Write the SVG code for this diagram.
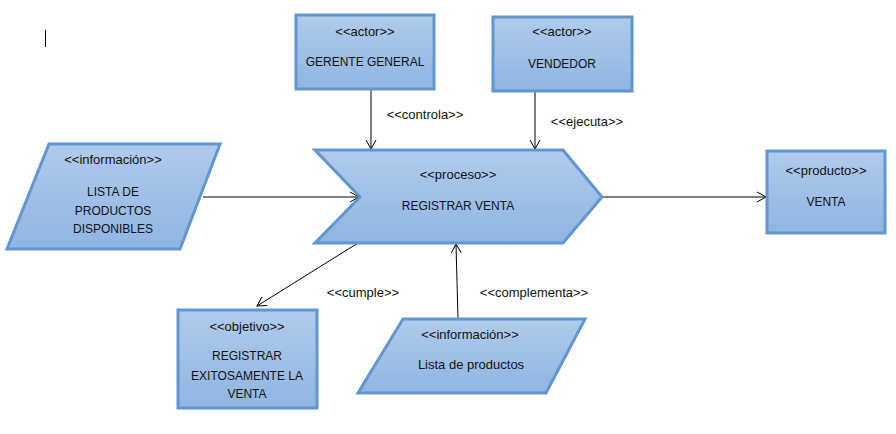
<svg xmlns="http://www.w3.org/2000/svg" width="896" height="434" viewBox="0 0 896 434">
<defs>
<linearGradient id="g" x1="0" y1="0" x2="0" y2="1">
<stop offset="0" stop-color="#b0cbec"/>
<stop offset="1" stop-color="#8fb5e2"/>
</linearGradient>
<marker id="ah" markerWidth="12" markerHeight="12" refX="10" refY="6" orient="auto" markerUnits="userSpaceOnUse">
<path d="M1,1 L10,6 L1,11" fill="none" stroke="#000" stroke-width="1"/>
</marker>
<style>
.s{fill:url(#g);stroke:#6196d0;stroke-width:3}
text{font-family:"Liberation Sans",Arial,sans-serif;font-size:12px;fill:#111;text-anchor:middle}
.l{font-size:13px}
.c{stroke:#000;stroke-width:1;fill:none;marker-end:url(#ah)}
</style>
</defs>
<rect width="896" height="434" fill="#fff"/>
<line x1="45.5" y1="30" x2="45.5" y2="47" stroke="#000" stroke-width="1"/>
<g id="connectors">
<line class="c" x1="371" y1="89" x2="371" y2="149"/>
<line class="c" x1="535" y1="91" x2="535" y2="149"/>
<line class="c" x1="203" y1="197" x2="359" y2="197"/>
<line class="c" x1="603" y1="197" x2="766" y2="197"/>
<line class="c" x1="358" y1="243" x2="257" y2="306"/>
<line class="c" x1="458" y1="319" x2="456" y2="244"/>
<text class="l" x="425" y="119">&lt;&lt;controla&gt;&gt;</text>
<text class="l" x="587" y="126">&lt;&lt;ejecuta&gt;&gt;</text>
<text class="l" x="363" y="297">&lt;&lt;cumple&gt;&gt;</text>
<text class="l" x="534" y="297">&lt;&lt;complementa&gt;&gt;</text>
</g>
<g id="gerente">
<rect class="s" x="296" y="15" width="138" height="74"/>
<text class="l" x="365" y="36">&lt;&lt;actor&gt;&gt;</text>
<text x="365" y="66">GERENTE GENERAL</text>
</g>
<g id="vendedor">
<rect class="s" x="493" y="17" width="139" height="74"/>
<text class="l" x="562" y="36">&lt;&lt;actor&gt;&gt;</text>
<text x="562" y="68">VENDEDOR</text>
</g>
<g id="proceso">
<polygon class="s" points="315,150 563,150 602,197 563,243 315,243 360,197"/>
<text class="l" x="458" y="179">&lt;&lt;proceso&gt;&gt;</text>
<text x="458" y="210">REGISTRAR VENTA</text>
</g>
<g id="lista-disponibles">
<polygon class="s" points="49,144 220,144 180,249 7,249"/>
<text class="l" x="113" y="164">&lt;&lt;información&gt;&gt;</text>
<text x="113" y="196">LISTA DE</text>
<text x="113" y="215">PRODUCTOS</text>
<text x="113" y="233">DISPONIBLES</text>
</g>
<g id="venta">
<rect class="s" x="767" y="151" width="118" height="82"/>
<text class="l" x="826" y="175">&lt;&lt;producto&gt;&gt;</text>
<text x="826" y="206">VENTA</text>
</g>
<g id="objetivo">
<rect class="s" x="178" y="310" width="139" height="98"/>
<text class="l" x="247" y="331">&lt;&lt;objetivo&gt;&gt;</text>
<text x="247" y="360">REGISTRAR</text>
<text x="247" y="380">EXITOSAMENTE LA</text>
<text x="247" y="398">VENTA</text>
</g>
<g id="lista-productos">
<polygon class="s" points="403,319 585,319 546,393 358,393"/>
<text class="l" x="470" y="339">&lt;&lt;información&gt;&gt;</text>
<text class="l" x="471" y="369">Lista de productos</text>
</g>
</svg>
